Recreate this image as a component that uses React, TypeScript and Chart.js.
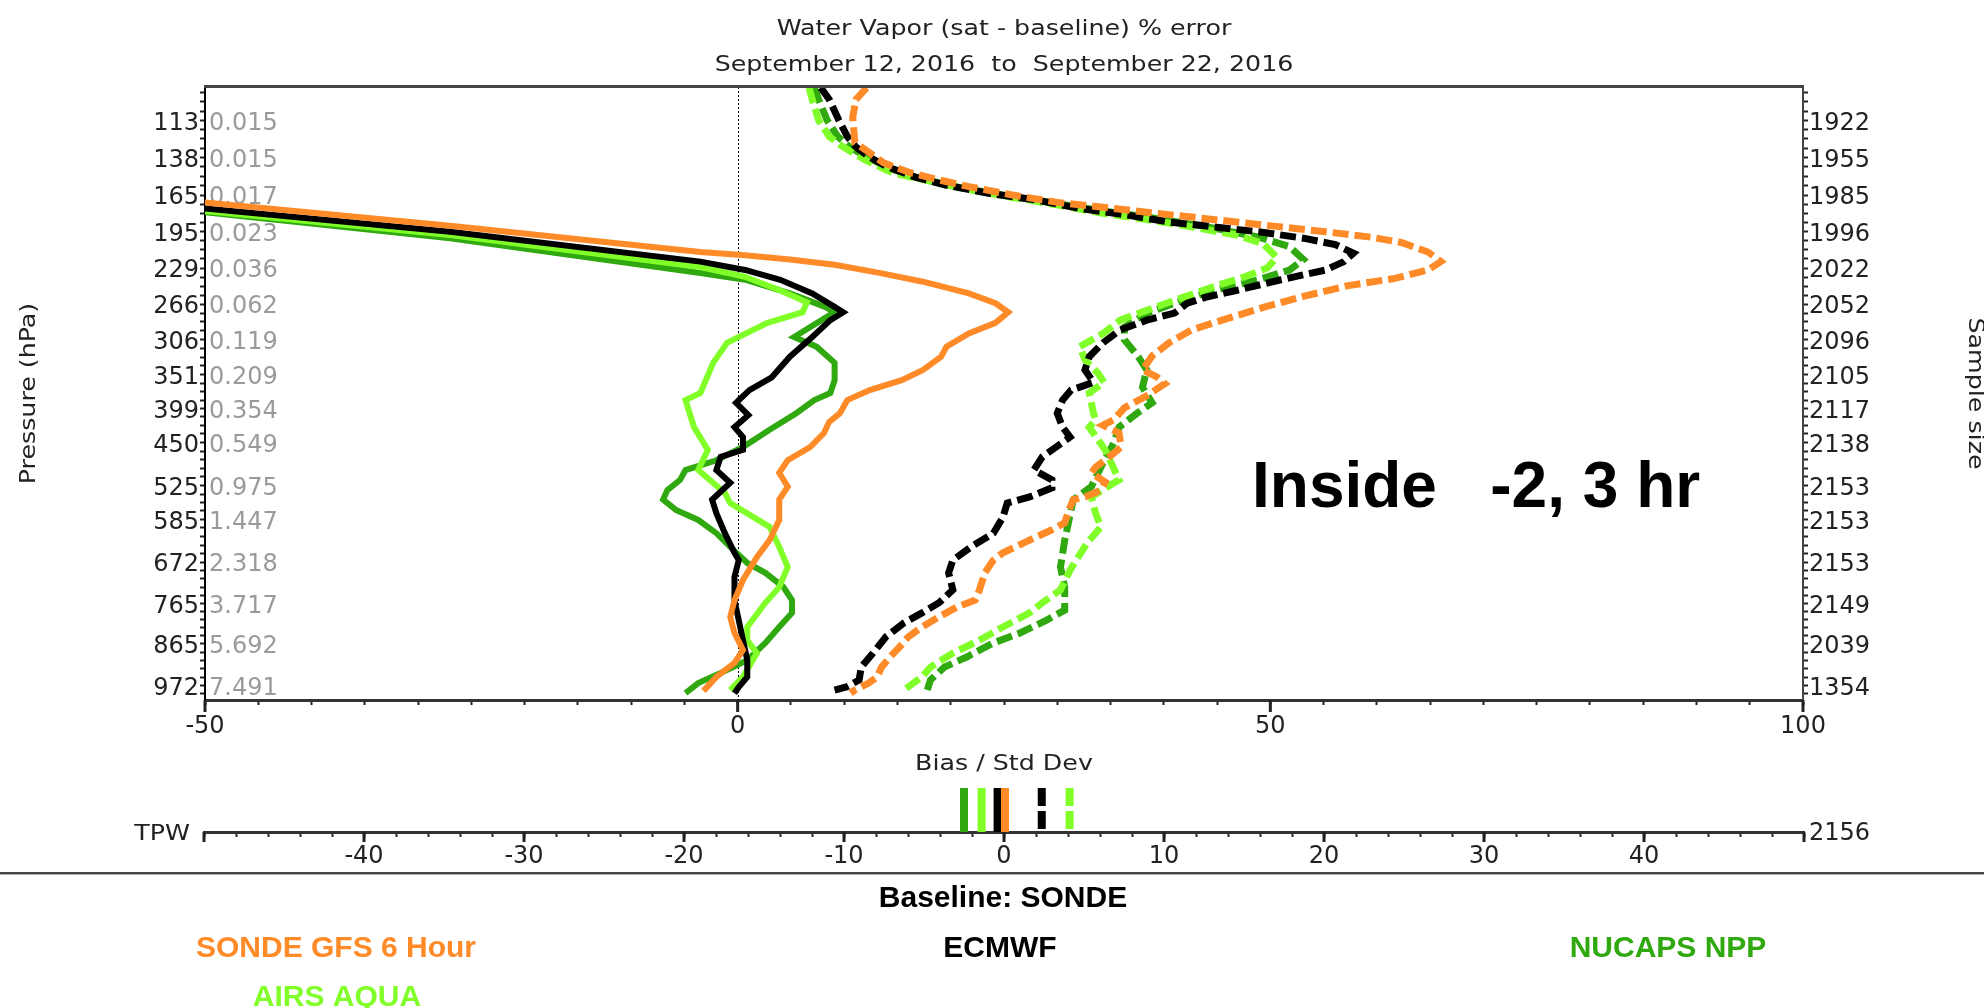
import React, { useEffect, useRef } from 'react';
import { Chart, registerables } from 'chart.js';

Chart.register(...registerables);

const FONT = '"DejaVu Sans", sans-serif';
const BOLD_FONT = '"Liberation Sans", Arial, sans-serif';

const ORANGE = '#ff8a28';
const LIGHT_GREEN = '#80ff28';
const DARK_GREEN = '#30a810';
const BLACK = '#000000';

// ---------- axis definitions ----------
const pressureLevels = [113, 138, 165, 195, 229, 266, 306, 351, 399, 450, 525, 585, 672, 765, 865, 972];
// position of each labelled level on the vertical axis (0 = top, 100 = bottom)
const levelAxisPos = [5.43, 11.47, 17.62, 23.62, 29.53, 35.43, 41.22, 46.9, 52.45, 57.98, 65.02, 70.55, 77.5, 84.29, 90.83, 97.62];
const minorDivisions = [4, 4, 4, 4, 4, 4, 4, 4, 4, 5, 4, 5, 5, 5, 5];
const mixingRatioLabels = ['0.015', '0.015', '0.017', '0.023', '0.036', '0.062', '0.119', '0.209', '0.354', '0.549', '0.975', '1.447', '2.318', '3.717', '5.692', '7.491'];
const sampleSizeLabels = ['1922', '1955', '1985', '1996', '2022', '2052', '2096', '2105', '2117', '2138', '2153', '2153', '2153', '2149', '2039', '1354'];
const tpwSampleSize = '2156';

const biasAxis = { min: -50, max: 100, minorStep: 5, majorStep: 50 };
const tpwAxis = { min: -50, max: 50, minorStep: 2, majorStep: 10 };

// ---------- profiles: [pressure hPa, % error] ----------
const gfsBias = [[165, -57.5], [171, -50], [190, -27], [214, -3.5], [217, 0.7], [221, 4.9], [226, 9.1], [234, 13.3], [243, 17.4], [255, 21.7], [265, 24.2], [275, 25.4], [287, 24.2], [299, 21.7], [315, 19.6], [328, 19.1], [345, 17.4], [359, 15.4], [373, 12.4], [387, 10.3], [406, 9.6], [419, 8.6], [436, 8.1], [458, 6.8], [481, 4.7], [503, 3.9], [527, 4.7], [550, 3.9], [586, 3.9], [627, 3.0], [662, 1.8], [712, 0.5], [757, -0.3], [798, -0.7], [838, -0.3], [881, 0.5], [914, -0.3], [950, -2.0], [986, -3.2]];
const ecmwfBias = [[168, -60], [176, -50], [195, -27], [223, -3.5], [231, 0.7], [241, 4.0], [255, 7.0], [269, 9.1], [275, 9.9], [284, 8.7], [303, 7.0], [328, 4.9], [355, 3.2], [373, 1.1], [391, -0.15], [409, 1.0], [427, -0.3], [442, 0.5], [463, 0.5], [475, -1.6], [498, -2.0], [520, -0.7], [550, -2.4], [574, -2.0], [613, -1.2], [653, -0.3], [668, 0.1], [705, -0.3], [757, -0.3], [806, 0.1], [856, 0.5], [907, 0.9], [950, 0.9], [976, 0.1], [992, -0.3]];
const airsBias = [[171, -60], [178, -50], [198, -27], [228, -3.5], [238, 0.7], [252, 4.0], [264, 6.5], [275, 6.1], [287, 2.8], [310, -1.0], [336, -2.3], [377, -3.5], [387, -4.9], [427, -4.1], [463, -2.8], [498, -3.7], [538, -1.2], [556, -0.7], [600, 3.0], [641, 3.9], [683, 4.7], [728, 3.9], [763, 2.6], [823, 0.9], [856, 0.9], [889, 1.8], [950, 0.5], [984, -0.7]];
const nucapsBias = [[172, -60], [179, -50], [201, -27], [234, -3.5], [241, 0.7], [255, 4.9], [269, 8.2], [275, 9.1], [303, 5.3], [315, 7.4], [336, 9.1], [359, 9.1], [377, 8.7], [387, 7.2], [406, 5.5], [431, 3.0], [458, 0.5], [481, -2.0], [498, -4.9], [515, -5.4], [533, -6.6], [550, -7.0], [568, -5.8], [586, -3.7], [613, -2.0], [641, -0.7], [674, 0.9], [696, 2.6], [728, 4.3], [757, 5.1], [788, 5.1], [823, 3.9], [863, 2.6], [907, 0.9], [940, -1.6], [966, -3.7], [992, -4.9]];

const gfsStd = [[91, 12.1], [99, 11.1], [111, 10.8], [128, 11.0], [133, 12.0], [142, 13.7], [149, 16.2], [154, 18.8], [159, 21.7], [165, 25.8], [171, 30.0], [175, 34.3], [179, 38.4], [183, 42.6], [187, 46.8], [191, 51.0], [195, 55.2], [200, 59.4], [205, 62.3], [214, 64.8], [223, 66.0], [231, 64.8], [240, 61.5], [247, 57.3], [258, 53.1], [269, 49.5], [282, 46.0], [295, 42.6], [310, 40.5], [327, 38.9], [345, 38.0], [354, 39.3], [364, 40.1], [381, 38.4], [398, 36.3], [416, 35.3], [424, 34.3], [436, 35.8], [458, 36.0], [475, 34.9], [493, 33.6], [503, 33.2], [519, 34.5], [533, 34.1], [545, 32.6], [550, 31.5], [568, 31.1], [592, 30.7], [606, 29.5], [627, 27.4], [641, 26.1], [653, 24.9], [668, 24.0], [696, 23.2], [734, 22.7], [757, 22.3], [773, 20.6], [798, 18.9], [823, 17.3], [848, 16.0], [873, 15.2], [899, 14.3], [925, 13.5], [950, 13.1], [966, 12.3], [984, 11.0], [992, 10.6]];
const ecmwfStd = [[91, 7.8], [99, 8.6], [113, 9.5], [124, 10.3], [131, 11.1], [138, 12.4], [145, 14.1], [152, 16.6], [158, 19.6], [164, 23.7], [169, 28.0], [176, 32.1], [181, 36.3], [187, 40.5], [191, 44.7], [195, 48.9], [201, 53.1], [207, 56.1], [215, 57.8], [223, 56.9], [231, 55.2], [241, 51.0], [252, 46.8], [259, 43.9], [265, 42.2], [276, 41.0], [284, 38.4], [295, 35.9], [310, 34.3], [328, 33.0], [345, 32.6], [362, 33.4], [373, 31.3], [387, 30.5], [406, 30.0], [427, 30.5], [442, 31.2], [458, 29.9], [475, 28.6], [498, 27.8], [515, 29.5], [529, 29.5], [545, 27.4], [556, 25.3], [581, 24.9], [613, 24.0], [641, 21.9], [668, 20.2], [696, 19.8], [734, 20.2], [763, 18.9], [788, 17.3], [813, 15.6], [848, 13.9], [889, 12.7], [925, 11.6], [958, 11.4], [976, 10.2], [984, 9.1]];
const airsStd = [[91, 6.7], [99, 7.0], [113, 7.6], [124, 8.6], [131, 9.9], [140, 12.0], [149, 14.5], [154, 17.4], [161, 21.7], [167, 25.8], [173, 30.0], [180, 34.3], [185, 38.4], [191, 42.6], [198, 46.8], [206, 49.3], [219, 50.6], [229, 49.7], [238, 47.6], [248, 44.7], [259, 41.8], [273, 38.4], [284, 35.9], [299, 34.3], [315, 32.1], [332, 32.6], [349, 33.8], [362, 34.4], [377, 33.0], [406, 33.4], [416, 33.6], [427, 33.0], [463, 34.5], [515, 35.8], [545, 33.2], [574, 33.6], [600, 34.1], [633, 32.8], [690, 31.2], [734, 30.3], [763, 28.6], [788, 27.4], [823, 24.9], [856, 22.7], [889, 20.2], [925, 18.1], [950, 17.3], [976, 16.0], [984, 15.6]];
const nucapsStd = [[91, 7.2], [99, 7.6], [113, 8.4], [124, 9.4], [131, 10.5], [138, 12.2], [146, 14.3], [153, 17.0], [160, 21.0], [166, 25.5], [172, 30.0], [178, 34.3], [183, 38.4], [188, 42.0], [192, 44.7], [200, 48.9], [209, 51.8], [221, 53.1], [231, 51.8], [241, 48.9], [252, 44.7], [262, 41.8], [276, 38.4], [292, 36.3], [306, 36.3], [328, 37.6], [345, 38.4], [369, 38.0], [391, 38.9], [406, 37.5], [427, 35.8], [451, 35.3], [493, 34.1], [527, 33.2], [550, 31.5], [586, 31.1], [627, 30.7], [683, 30.3], [728, 30.7], [781, 30.7], [806, 29.0], [838, 26.5], [863, 24.0], [899, 21.5], [925, 19.4], [958, 18.1], [992, 17.7]];

// ---------- TPW ----------
const tpwSeries = ['NUCAPS NPP', 'AIRS AQUA', 'ECMWF', 'SONDE GFS 6 Hour'];
const tpwBias = [-2.5, -1.4, -0.4, 0.06];
const tpwStd = [null, 4.1, 2.36, null];

// ---------- text ----------
const titleLines = ['Water Vapor (sat - baseline) % error', 'September 12, 2016  to  September 22, 2016'];
const xAxisTitle = 'Bias / Std Dev';
const yAxisTitle = 'Pressure (hPa)';
const y2AxisTitle = 'Sample size';
const annotationText = 'Inside   -2, 3 hr';
const baselineText = 'Baseline: SONDE';
const tpwLabel = 'TPW';

const seriesStyle = {
  'SONDE GFS 6 Hour': { color: ORANGE, order: 0 },
  ECMWF: { color: BLACK, order: 1 },
  'AIRS AQUA': { color: LIGHT_GREEN, order: 2 },
  'NUCAPS NPP': { color: DARK_GREEN, order: 3 },
};
const legendLayout = [
  { name: 'SONDE GFS 6 Hour', cx: 336, y: 957 },
  { name: 'ECMWF', cx: 1000, y: 957 },
  { name: 'NUCAPS NPP', cx: 1668, y: 957 },
  { name: 'AIRS AQUA', cx: 337, y: 1006 },
];

const LABEL_SHIFT = 3;

function pressureToPos(p: number): number {
  const n = pressureLevels.length;
  let i = 0;
  if (p >= pressureLevels[n - 1]) i = n - 2;
  else if (p > pressureLevels[0]) {
    while (p > pressureLevels[i + 1]) i++;
  }
  const p0 = pressureLevels[i];
  const p1 = pressureLevels[i + 1];
  const y0 = levelAxisPos[i];
  const y1 = levelAxisPos[i + 1];
  return y0 + ((p - p0) * (y1 - y0)) / (p1 - p0);
}

function levelTicks() {
  const vals: number[] = [];
  const n = levelAxisPos.length;
  const firstStep = (levelAxisPos[1] - levelAxisPos[0]) / minorDivisions[0];
  for (let v = levelAxisPos[0] - firstStep; v > 0; v -= firstStep) vals.push(v);
  for (let i = 0; i < n - 1; i++) {
    const step = (levelAxisPos[i + 1] - levelAxisPos[i]) / minorDivisions[i];
    for (let k = 0; k < minorDivisions[i]; k++) vals.push(levelAxisPos[i] + k * step);
  }
  vals.push(levelAxisPos[n - 1]);
  const lastStep = (levelAxisPos[n - 1] - levelAxisPos[n - 2]) / minorDivisions[n - 2];
  for (let v = levelAxisPos[n - 1] + lastStep; v < 100; v += lastStep) vals.push(v);
  return vals.sort((a, b) => a - b).map((value) => ({ value }));
}

function levelIndex(value: number): number {
  return levelAxisPos.findIndex((v) => Math.abs(v - value) < 1e-6);
}

function stepTicks(min: number, max: number, step: number) {
  const t = [];
  for (let v = min; v <= max + 1e-9; v += step) t.push({ value: Math.round(v * 1000) / 1000 });
  return t;
}

function drawText(ctx, text, x, y, o) {
  ctx.save();
  ctx.translate(x, y);
  if (o.rotate) ctx.rotate(o.rotate);
  ctx.scale(o.sx || 1, 1);
  ctx.font = o.font;
  ctx.fillStyle = o.color || '#222';
  ctx.textAlign = o.align || 'center';
  ctx.textBaseline = o.baseline || 'alphabetic';
  ctx.fillText(text, 0, 0);
  ctx.restore();
}

function profileDataset(name: string, profile: number[][], dashed: boolean) {
  const st = seriesStyle[name];
  return {
    label: name + (dashed ? ' std' : ' bias'),
    data: profile.map(([p, v]) => ({ x: v, y: pressureToPos(p) })),
    borderColor: st.color,
    backgroundColor: st.color,
    borderWidth: dashed ? 7 : 6,
    borderDash: dashed ? [16, 6] : [],
    borderCapStyle: 'butt',
    pointRadius: 0,
    tension: 0,
    fill: false,
    order: st.order,
    clip: 0,
  };
}

const mainDecor = {
  id: 'mainDecor',
  beforeDatasetsDraw(chart) {
    const { ctx, chartArea: a, scales } = chart;
    ctx.save();
    const x0 = Math.round(scales.x.getPixelForValue(0)) + 0.5;
    ctx.strokeStyle = '#000';
    ctx.lineWidth = 1;
    ctx.setLineDash([2, 2]);
    ctx.beginPath();
    ctx.moveTo(x0, a.top);
    ctx.lineTo(x0, a.bottom);
    ctx.stroke();
    ctx.setLineDash([]);
    ctx.font = `24px ${FONT}`;
    ctx.fillStyle = '#9a9a9a';
    ctx.textAlign = 'left';
    ctx.textBaseline = 'middle';
    levelAxisPos.forEach((pos, i) => {
      ctx.fillText(mixingRatioLabels[i], a.left + 4, scales.y.getPixelForValue(pos) + LABEL_SHIFT);
    });
    ctx.restore();
  },
  afterDraw(chart) {
    const { ctx, chartArea: a, scales } = chart;
    ctx.save();
    ctx.fillStyle = '#444';
    ctx.fillRect(a.left - 1, a.top - 2, a.right - a.left + 2, 3);
    ctx.fillStyle = '#222';
    for (let v = biasAxis.min; v <= biasAxis.max; v += biasAxis.majorStep) {
      const x = scales.x.getPixelForValue(v);
      ctx.fillRect(x - 1.5, a.bottom, 3, 12);
    }
    ctx.fillStyle = '#444';
    ctx.fillRect(0, 872, chart.width, 2);
    ctx.fillStyle = '#aaa';
    ctx.fillRect(0, 874, chart.width, 1);
    ctx.restore();

    const cx = (a.left + a.right) / 2;
    const thin = `22px ${FONT}`;
    drawText(ctx, titleLines[0], cx, 35, { font: thin, sx: 1.15 });
    drawText(ctx, titleLines[1], cx, 71, { font: thin, sx: 1.15 });
    drawText(ctx, xAxisTitle, cx, 770, { font: thin, sx: 1.15 });
    drawText(ctx, yAxisTitle, 35, (a.top + a.bottom) / 2, { font: thin, sx: 1.15, rotate: -Math.PI / 2 });
    drawText(ctx, y2AxisTitle, 1969, (a.top + a.bottom) / 2, { font: thin, sx: 1.15, rotate: Math.PI / 2 });
    drawText(ctx, annotationText, 1252, 507, { font: `bold 64px ${BOLD_FONT}`, color: '#000', align: 'left' });
    drawText(ctx, baselineText, 1003, 907, { font: `bold 30px ${BOLD_FONT}`, color: '#000' });
    legendLayout.forEach((l) => {
      drawText(ctx, l.name, l.cx, l.y, { font: `bold 30px ${BOLD_FONT}`, color: seriesStyle[l.name].color });
    });
  },
};

const tpwDecor = {
  id: 'tpwDecor',
  afterDraw(chart) {
    const { ctx, chartArea: a, scales } = chart;
    ctx.save();
    ctx.fillStyle = '#222';
    for (let v = tpwAxis.min; v <= tpwAxis.max; v += tpwAxis.majorStep) {
      const x = scales.x.getPixelForValue(v);
      ctx.fillRect(x - 1.5, a.bottom, 3, 10);
    }
    ctx.restore();
    drawText(ctx, tpwLabel, 190, a.bottom + 2, { font: `22px ${FONT}`, sx: 1.15, align: 'right', baseline: 'middle' });
    drawText(ctx, tpwSampleSize, a.right + 5, a.bottom + 2, { font: `24px ${FONT}`, align: 'left', baseline: 'middle' });
  },
};

function levelAxis(position: string, width: number, labels: string[], borderColor: string) {
  return {
    type: 'linear',
    position,
    min: 0,
    max: 100,
    reverse: true,
    afterBuildTicks: (s) => { s.ticks = levelTicks(); },
    afterFit: (s) => { s.width = width; },
    ticks: {
      autoSkip: false,
      padding: 1,
      labelOffset: LABEL_SHIFT,
      font: { family: FONT, size: 24 },
      color: '#222',
      callback: (v) => { const i = levelIndex(v); return i >= 0 ? labels[i] : ''; },
    },
    grid: { drawOnChartArea: false, drawTicks: true, tickLength: 5, tickWidth: 2, tickColor: '#222' },
    border: { display: true, color: borderColor, width: 2 },
  };
}

function mainConfig() {
  const datasets = [
    profileDataset('SONDE GFS 6 Hour', gfsBias, false),
    profileDataset('ECMWF', ecmwfBias, false),
    profileDataset('AIRS AQUA', airsBias, false),
    profileDataset('NUCAPS NPP', nucapsBias, false),
    profileDataset('SONDE GFS 6 Hour', gfsStd, true),
    profileDataset('ECMWF', ecmwfStd, true),
    profileDataset('AIRS AQUA', airsStd, true),
    profileDataset('NUCAPS NPP', nucapsStd, true),
  ];
  return {
    type: 'line',
    data: { datasets },
    plugins: [mainDecor],
    options: {
      responsive: false,
      animation: false,
      devicePixelRatio: 1,
      events: [],
      layout: { padding: { left: 145, right: 91, top: 87, bottom: 268 } },
      plugins: { legend: { display: false }, title: { display: false }, tooltip: { enabled: false } },
      scales: {
        x: {
          type: 'linear',
          position: 'bottom',
          min: biasAxis.min,
          max: biasAxis.max,
          afterBuildTicks: (s) => { s.ticks = stepTicks(biasAxis.min, biasAxis.max, biasAxis.minorStep); },
          afterFit: (s) => { s.height = 40; },
          ticks: {
            autoSkip: false,
            maxRotation: 0,
            minRotation: 0,
            padding: 7,
            font: { family: FONT, size: 24 },
            color: '#222',
            callback: (v) => (Math.abs(v % biasAxis.majorStep) < 1e-9 ? String(v) : ''),
          },
          grid: { drawOnChartArea: false, drawTicks: true, tickLength: 5, tickWidth: 2, tickColor: '#222' },
          border: { display: true, color: '#333', width: 3 },
        },
        y: levelAxis('left', 60, pressureLevels.map(String), '#000'),
        y2: levelAxis('right', 90, sampleSizeLabels, '#444'),
      },
    },
  };
}

function tpwConfig() {
  const datasets = [];
  tpwSeries.forEach((name, i) => {
    const st = seriesStyle[name];
    datasets.push({
      label: name + ' TPW bias',
      data: [{ x: tpwBias[i], y: 1 }, { x: tpwBias[i], y: 0 }],
      borderColor: st.color,
      borderWidth: 8,
      borderCapStyle: 'butt',
      pointRadius: 0,
      order: st.order,
      clip: false,
    });
    if (tpwStd[i] !== null) {
      datasets.push({
        label: name + ' TPW std',
        data: [{ x: tpwStd[i], y: 1 }, { x: tpwStd[i], y: 0 }],
        borderColor: st.color,
        borderWidth: 8,
        borderDash: [18, 5],
        borderCapStyle: 'butt',
        pointRadius: 0,
        order: st.order,
        clip: false,
      });
    }
  });
  return {
    type: 'line',
    data: { datasets },
    plugins: [tpwDecor],
    options: {
      responsive: false,
      animation: false,
      devicePixelRatio: 1,
      events: [],
      layout: { padding: { left: 204, right: 180, top: 18, bottom: 8 } },
      plugins: { legend: { display: false }, title: { display: false }, tooltip: { enabled: false } },
      scales: {
        x: {
          type: 'linear',
          position: 'bottom',
          min: tpwAxis.min,
          max: tpwAxis.max,
          afterBuildTicks: (s) => { s.ticks = stepTicks(tpwAxis.min, tpwAxis.max, tpwAxis.minorStep); },
          afterFit: (s) => { s.height = 40; },
          ticks: {
            autoSkip: false,
            maxRotation: 0,
            minRotation: 0,
            padding: 5,
            font: { family: FONT, size: 24 },
            color: '#222',
            callback: (v) => (Math.abs(v % tpwAxis.majorStep) < 1e-9 && Math.abs(v) < tpwAxis.max ? String(v) : ''),
          },
          grid: { drawOnChartArea: false, drawTicks: true, tickLength: 5, tickWidth: 2, tickColor: '#222' },
          border: { display: true, color: '#333', width: 3 },
        },
        y: { type: 'linear', display: false, min: 0, max: 1 },
      },
    },
  };
}

export default function App() {
  const mainRef = useRef<HTMLCanvasElement>(null);
  const tpwRef = useRef<HTMLCanvasElement>(null);
  useEffect(() => {
    const main = new Chart(mainRef.current, mainConfig() as any);
    const tpw = new Chart(tpwRef.current, tpwConfig() as any);
    return () => {
      main.destroy();
      tpw.destroy();
    };
  }, []);
  return (
    <div style={{ position: 'absolute', left: 0, top: 0, width: 1984, height: 1008, overflow: 'hidden', background: '#fff' }}>
      <canvas ref={mainRef} width={1984} height={1008} style={{ position: 'absolute', left: 0, top: 0, width: 1984, height: 1008 }} />
      <canvas ref={tpwRef} width={1984} height={110} style={{ position: 'absolute', left: 0, top: 770, width: 1984, height: 110 }} />
    </div>
  );
}
